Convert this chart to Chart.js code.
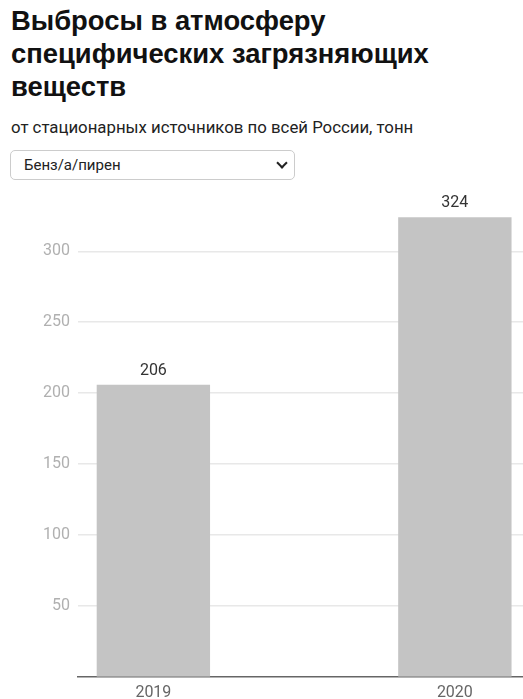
<!DOCTYPE html>
<html lang="ru">
<head>
<meta charset="utf-8">
<script src="https://cdn.jsdelivr.net/npm/chart.js@4/dist/chart.umd.min.js"></script>
<style>
    html, body { margin: 0; padding: 0; background: #fff; overflow: hidden; }
    body { width: 523px; height: 699px; position: relative; }
    h1 {
        position: absolute; left: 11px; top: 4px; margin: 0;
        font: bold 27.4px/33px "Liberation Sans", Arial, sans-serif; color: #111;
    }
    .sub {
        position: absolute; left: 11px; top: 117px;
        font: 16.8px Roboto, sans-serif; color: #222;
    }
    .sel {
        position: absolute; left: 10px; top: 150px; width: 285px; height: 30px;
        box-sizing: border-box; border: 1px solid #ccc; border-radius: 5px;
        padding: 0 0 0 13px; font: 15px Roboto, sans-serif; color: #222;
        background: #fff; -webkit-appearance: none; appearance: none;
    }
    .chev {
        position: absolute; left: 278px; top: 159px; width: 6px; height: 6px;
        border-right: 2px solid #222; border-bottom: 2px solid #222;
        transform: rotate(45deg);
    }
    .GraficoEmissoes { position: absolute; left: 0; top: 177px; width: 523px; height: 533px; }
</style>
</head>
<body>
<h1>Выбросы в атмосферу<br>специфических загрязняющих<br>веществ</h1>
<div class="sub">от стационарных источников по всей России, тонн</div>
<select class="sel"><option>Бенз/а/пирен</option></select>
<div class="chev"></div>
<div class="GraficoEmissoes"><canvas id="GraficoEmissoes"></canvas></div>

<script>
var anos = [2019, 2020];
var valores = [206, 324];
var ticksY = [50, 100, 150, 200, 250, 300];

// rótulos com o valor em cima de cada barra
var rotulosBarras = {
    id: 'rotulosBarras',
    afterDatasetsDraw: function (chart) {
        var ctx = chart.ctx;
        var meta = chart.getDatasetMeta(0);
        ctx.save();
        ctx.font = '16px Roboto, sans-serif';
        ctx.fillStyle = '#333';
        ctx.textAlign = 'center';
        ctx.textBaseline = 'bottom';
        meta.data.forEach(function (barra, i) {
            ctx.fillText(String(valores[i]), barra.x, barra.y - 6);
        });
        ctx.restore();
    }
};

var ctx = document.getElementById('GraficoEmissoes').getContext('2d');

var grafico = new Chart(ctx, {
    type: 'bar',
    data: {
        labels: anos,
        datasets: [{
            label: 'Бенз/а/пирен',
            backgroundColor: '#c4c4c4',
            data: valores,
            barPercentage: 0.376,
            categoryPercentage: 1
        }]
    },
    plugins: [rotulosBarras],
    options: {
        responsive: true,
        maintainAspectRatio: false,
        animation: false,
        layout: { padding: 0 },
        plugins: {
            legend: { display: false },
            tooltip: { enabled: false }
        },
        scales: {
            x: {
                type: 'linear',
                bounds: 'data',
                offset: false,
                min: 2018.75,
                max: 2020.226,
                afterBuildTicks: function (scale) {
                    // o eixo não começa exatamente no ano, fixa os limites aqui
                    scale.min = 2018.75;
                    scale.max = 2020.226;
                    scale.ticks = anos.map(function (a) { return { value: a }; });
                },
                grid: { display: false, drawTicks: false },
                border: { display: true, color: '#666', width: 1.5 },
                ticks: {
                    padding: 7,
                    color: '#666',
                    font: { family: 'Roboto', size: 16 },
                    callback: function (v) { return String(v); }
                }
            },
            y: {
                min: 0,
                max: 340,
                afterBuildTicks: function (scale) {
                    scale.ticks = ticksY.map(function (t) { return { value: t }; });
                },
                afterFit: function (scale) { scale.width = 78; },
                grid: { color: '#e8e8e8', lineWidth: 1.5, drawTicks: false },
                border: { display: false },
                ticks: {
                    padding: 8,
                    color: '#b0b0b0',
                    font: { family: 'Roboto', size: 16 }
                }
            }
        }
    }
});
</script>
</body>
</html>
